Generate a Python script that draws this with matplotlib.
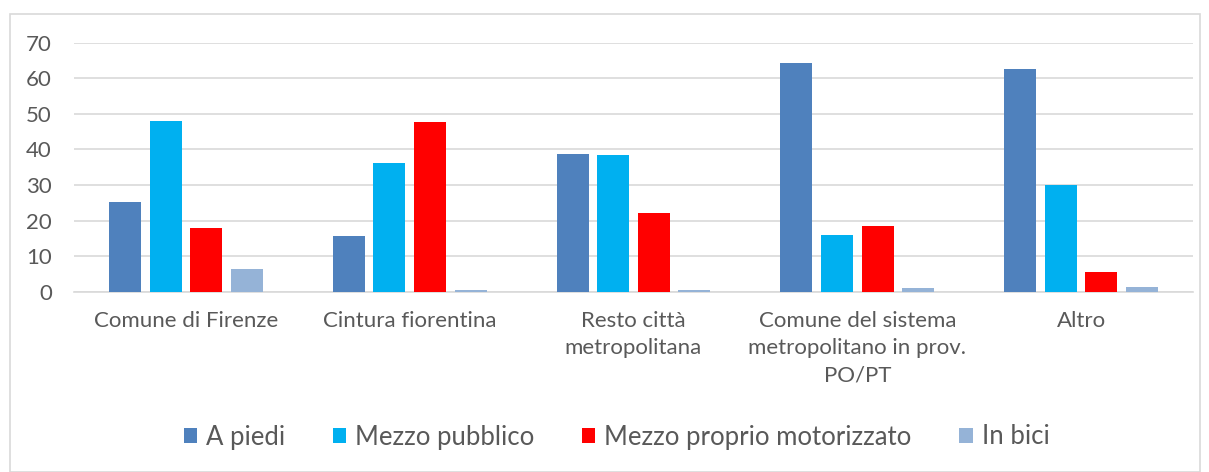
import matplotlib
matplotlib.use("Agg")
import matplotlib.pyplot as plt
from matplotlib.patches import Rectangle
import numpy as np

categories = ["Comune di Firenze", "Cintura fiorentina", "Resto città\nmetropolitana",
              "Comune del sistema\nmetropolitano in prov.\nPO/PT", "Altro"]
series_names = ["A piedi", "Mezzo pubblico", "Mezzo proprio motorizzato", "In bici"]
a_piedi = [25.2, 15.7, 38.8, 64.4, 62.5]
mezzo_pubblico = [48.0, 36.2, 38.4, 15.9, 30.0]
mezzo_proprio = [18.0, 47.6, 22.1, 18.5, 5.4]
in_bici = [6.4, 0.4, 0.4, 1.0, 1.4]
yticks = [0, 10, 20, 30, 40, 50, 60, 70]

colors = ["#4F81BD", "#00B0F0", "#FF0000", "#95B3D7"]
series = [a_piedi, mezzo_pubblico, mezzo_proprio, in_bici]

plt.rcParams['font.family'] = ['Lato', 'DejaVu Sans']
fig = plt.figure(figsize=(12.09, 4.72), dpi=100)
fig.patches.append(Rectangle((10/1209, 0), (1200-10)/1209, 1-14/472, transform=fig.transFigure,
                             fill=False, edgecolor="#D9D9D9", linewidth=1.2))
ax = fig.add_axes([74/1209, 1-291.7/472, (1193-74)/1209, (291.7-42.7)/472])

x = np.arange(len(categories))
step = 0.1815
width = 0.143
for i, (vals, c, name) in enumerate(zip(series, colors, series_names)):
    ax.bar(x + (i - 1.5) * step, vals, width=width, color=c, label=name, zorder=3)

ax.set_xlim(-0.5, len(categories) - 0.5)
ax.set_ylim(0, 70)
ax.set_yticks(yticks)
ax.yaxis.grid(True, color="#D9D9D9", linewidth=1.2, zorder=0)
for s in ["top", "right", "left"]:
    ax.spines[s].set_visible(False)
ax.spines["bottom"].set_color("#D9D9D9")
ax.spines["bottom"].set_linewidth(1.2)
ax.tick_params(axis="both", length=0, colors="#595959", labelsize=16)
ax.tick_params(axis="y", pad=16)
ax.tick_params(axis="x", pad=14)
ax.set_xticks(x)
ax.set_xticklabels(categories, linespacing=1.45)

leg = fig.legend(loc="center", bbox_to_anchor=(0.51, 1-437/472), ncol=4, frameon=False,
                 fontsize=18.5, handlelength=0.52, handleheight=0.52, handletextpad=0.35,
                 columnspacing=1.85, labelcolor="#595959")

fig.savefig("out.png", dpi=100)
